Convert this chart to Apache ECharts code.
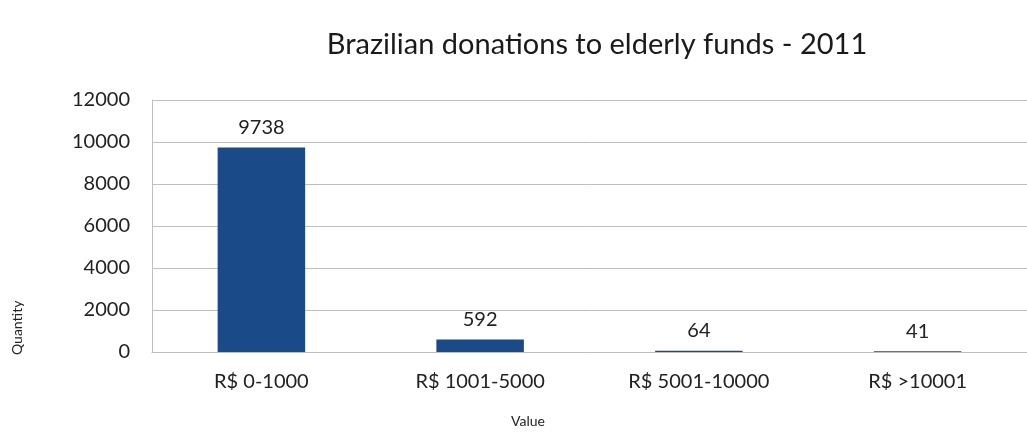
<!DOCTYPE html>
<html><head><meta charset="utf-8">
<script src="https://cdn.jsdelivr.net/npm/echarts@6/dist/echarts.min.js"></script>
<style>html,body{margin:0;padding:0;background:#fff}#c{width:1027px;height:440px}</style>
</head><body><div id="c"></div>
<script>
const categories = ['R$ 0-1000', 'R$ 1001-5000', 'R$ 5001-10000', 'R$ >10001'];
const quantities = [9738, 592, 64, 41];
const chartTitle = 'Brazilian donations to elderly funds - 2011';
const xName = 'Value';
const yName = 'Quantity';

const FONT = 'Lato, "Open Sans", sans-serif';
const chart = echarts.init(document.getElementById('c'), null, {renderer: 'canvas'});
chart.setOption({
  animation: false,
  backgroundColor: '#ffffff',
  title: {
    text: chartTitle, left: 592, top: 25, textAlign: 'center',
    textStyle: {fontFamily: FONT, fontSize: 29, fontWeight: 'normal', color: '#1a1a1a'}
  },
  grid: {left: 152, top: 100, width: 884, height: 252, show: false},
  xAxis: {
    type: 'category', data: categories,
    axisLine: {show: true, lineStyle: {color: '#bfbfbf'}},
    axisTick: {show: false},
    axisLabel: {fontFamily: FONT, fontSize: 20, color: '#222', margin: 20}
  },
  yAxis: {
    type: 'value', min: 0, max: 12000, interval: 2000,
    axisLine: {show: true, lineStyle: {color: '#bfbfbf'}}, axisTick: {show: false},
    splitLine: {lineStyle: {color: '#bfbfbf'}},
    axisLabel: {fontFamily: FONT, fontSize: 20, color: '#222', margin: 22, formatter: v => String(v)}
  },
  series: [{
    type: 'bar', data: quantities, barWidth: '40%',
    itemStyle: {color: '#1A4A88'},
    label: {show: true, position: 'top', distance: 10, fontFamily: FONT, fontSize: 20, color: '#222'}
  }],
  graphic: [
    {type: 'text', left: 511, top: 414, style: {text: xName, font: '14px ' + FONT, fill: '#222'}},
    {type: 'text', x: 10, y: 355, rotation: Math.PI / 2, style: {text: yName, font: '14px ' + FONT, fill: '#222'}}
  ]
});
</script></body></html>
